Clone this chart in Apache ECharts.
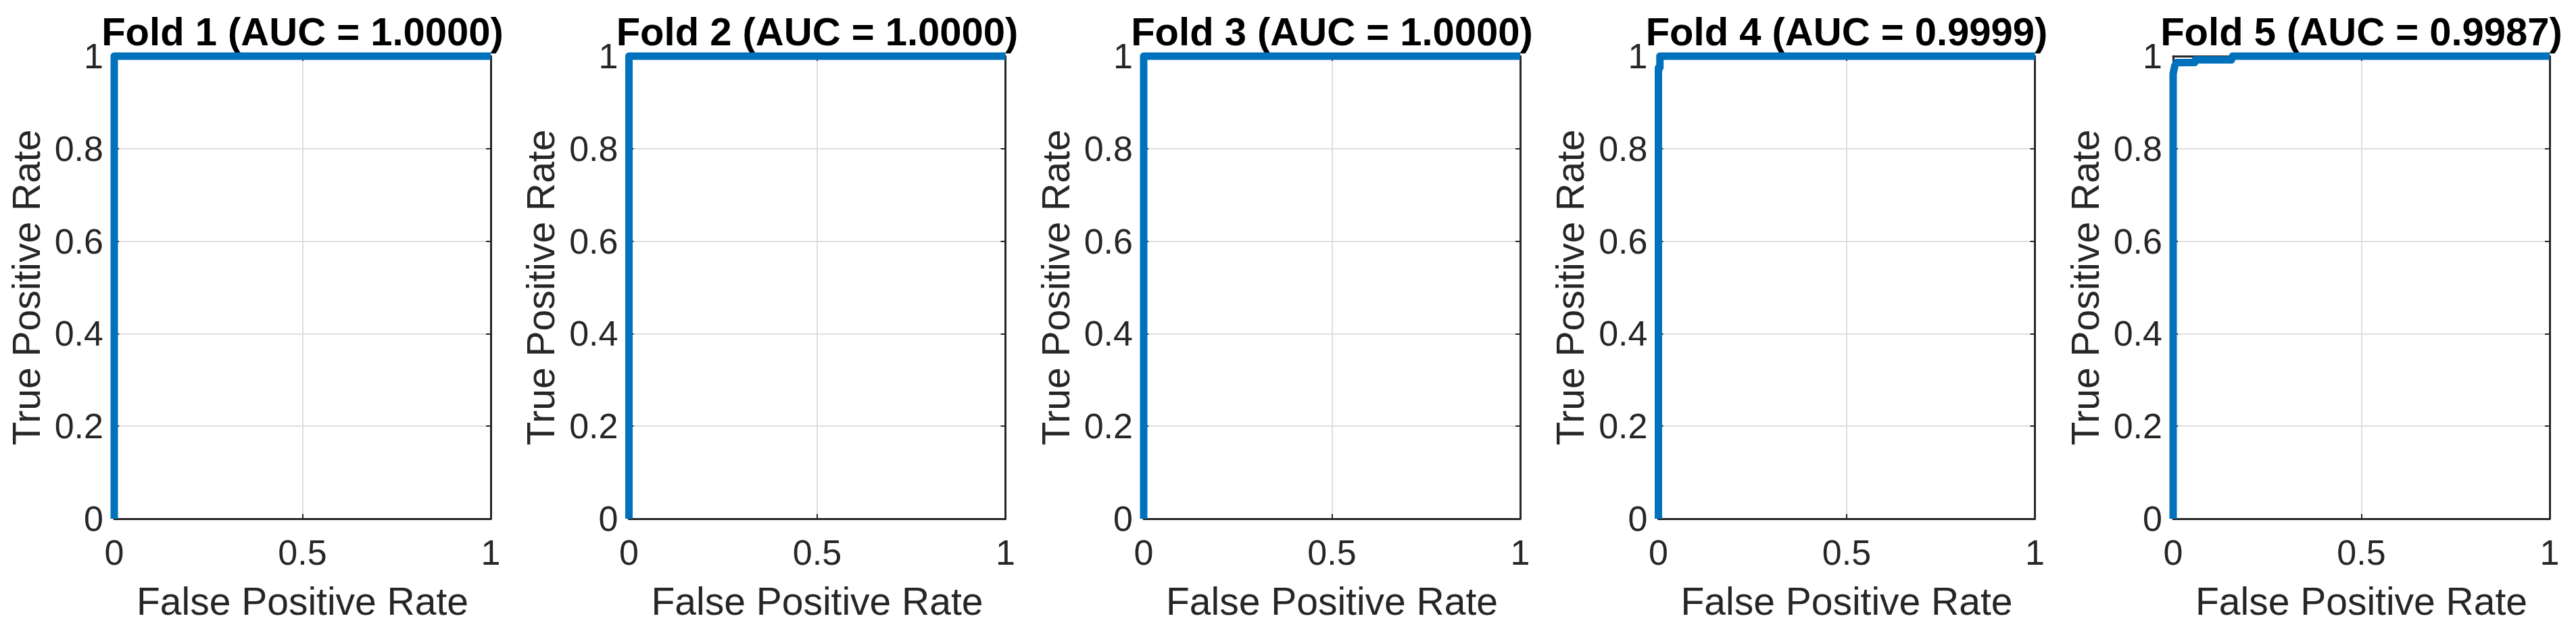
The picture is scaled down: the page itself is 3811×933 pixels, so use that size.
<!DOCTYPE html>
<html>
<head>
<meta charset="utf-8">
<script src="https://cdn.jsdelivr.net/npm/echarts@6/dist/echarts.min.js"></script>
<style>
html,body{margin:0;padding:0;background:#fff;}
#chart{width:3811px;height:933px;}
</style>
</head>
<body>
<div id="chart"></div>
<script>
// ---- Data ----
const foldTitles = ['Fold 1 (AUC = 1.0000)', 'Fold 2 (AUC = 1.0000)', 'Fold 3 (AUC = 1.0000)', 'Fold 4 (AUC = 0.9999)', 'Fold 5 (AUC = 0.9987)'];
const xAxisName = 'False Positive Rate';
const yAxisName = 'True Positive Rate';

const fold1FPR = [0, 0, 1];
const fold1TPR = [0, 1, 1];
const fold2FPR = [0, 0, 1];
const fold2TPR = [0, 1, 1];
const fold3FPR = [0, 0, 1];
const fold3TPR = [0, 1, 1];
const fold4FPR = [0, 0, 0.004, 0.004, 1];
const fold4TPR = [0, 0.975, 0.975, 1, 1];
const fold5FPR = [0, 0, 0.004, 0.009, 0.057, 0.059, 0.155, 0.158, 1];
const fold5TPR = [0, 0.962, 0.978, 0.986, 0.986, 0.992, 0.992, 1, 1];

const foldFPR = [fold1FPR, fold2FPR, fold3FPR, fold4FPR, fold5FPR];
const foldTPR = [fold1TPR, fold2TPR, fold3TPR, fold4TPR, fold5TPR];

// ---- Layout / style ----
const FONT = '"Liberation Sans", Arial, Helvetica, sans-serif';
const AX = '#262626';
const LEFT0 = 169, STEP = 761.5, W = 557, TOP = 83, H = 684;

const grids = [], xAxes = [], yAxes = [], series = [], graphics = [];
for (let i = 0; i < 5; i++) {
  const left = LEFT0 + i * STEP;
  grids.push({left: left, top: TOP, width: W, height: H, containLabel: false});
  const axLine = {show: true, onZero: false, lineStyle: {color: AX, width: 3}};
  const axTick = {show: true, inside: true, length: 7, lineStyle: {color: AX, width: 2}};
  xAxes.push({
    gridIndex: i, type: 'value', min: 0, max: 1, interval: 0.5, position: 'bottom',
    axisLine: axLine, axisTick: axTick,
    axisLabel: {margin: 24, fontSize: 52, color: AX, fontFamily: FONT},
    splitLine: {show: true, lineStyle: {color: '#dedede', width: 2}},
    name: xAxisName, nameLocation: 'middle', nameGap: 93,
    nameTextStyle: {fontSize: 57, color: AX, fontFamily: FONT}
  });
  xAxes.push({
    gridIndex: i, type: 'value', min: 0, max: 1, interval: 0.5, position: 'top',
    axisLine: axLine, axisTick: axTick, axisLabel: {show: false}, splitLine: {show: false}
  });
  yAxes.push({
    gridIndex: i, type: 'value', min: 0, max: 1, interval: 0.2, position: 'left',
    axisLine: axLine, axisTick: axTick,
    axisLabel: {margin: 16, fontSize: 52, color: AX, fontFamily: FONT},
    splitLine: {show: true, lineStyle: {color: '#dedede', width: 2}},
    name: yAxisName, nameLocation: 'middle', nameGap: 102,
    nameTextStyle: {fontSize: 57, color: AX, fontFamily: FONT}
  });
  yAxes.push({
    gridIndex: i, type: 'value', min: 0, max: 1, interval: 0.2, position: 'right',
    axisLine: axLine, axisTick: axTick, axisLabel: {show: false}, splitLine: {show: false}
  });
  series.push({
    type: 'line', xAxisIndex: 2 * i, yAxisIndex: 2 * i,
    data: foldFPR[i].map((x, k) => [x, foldTPR[i][k]]),
    showSymbol: false, symbol: 'none', clip: false, z: 5,
    lineStyle: {color: '#0072BD', width: 11, join: 'round', cap: 'butt'},
    animation: false
  });
  graphics.push({
    type: 'text', x: left + W / 2, y: 46,
    style: {text: foldTitles[i], fontSize: 58, fontWeight: 'bold', fill: '#000', fontFamily: FONT, align: 'center', verticalAlign: 'middle'}
  });
}

const chart = echarts.init(document.getElementById('chart'), null, {renderer: 'svg'});
chart.setOption({
  animation: false,
  backgroundColor: '#fff',
  grid: grids,
  xAxis: xAxes,
  yAxis: yAxes,
  series: series,
  graphic: graphics
});
</script>
</body>
</html>
